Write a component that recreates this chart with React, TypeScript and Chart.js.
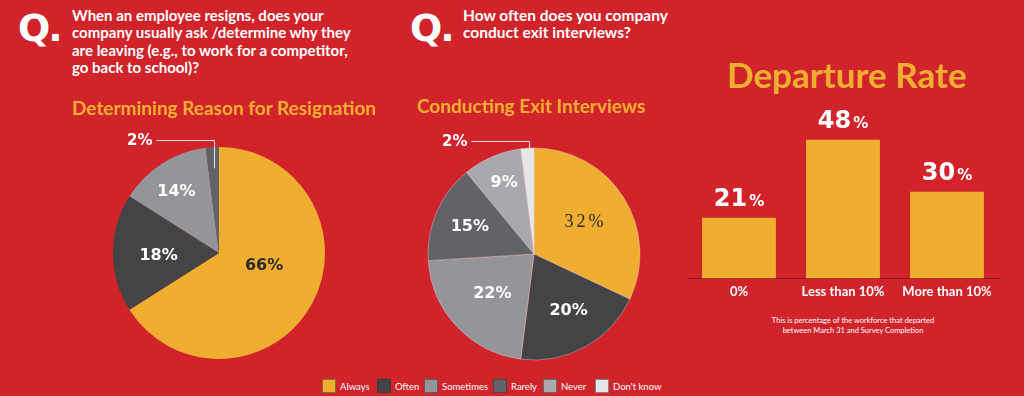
import React, { useEffect, useRef } from "react";
import { Chart, registerables } from "chart.js";

Chart.register(...registerables);

// ---------- data ----------
const legendLabels = ["Always", "Often", "Sometimes", "Rarely", "Never", "Don't know"];

const resignationLabels = ["Always", "Often", "Sometimes", "Rarely"];
const resignationValues = [66, 18, 14, 2];

const exitLabels = ["Always", "Often", "Sometimes", "Rarely", "Never", "Don't know"];
const exitValues = [32, 20, 22, 15, 9, 2];

const departureCategories = ["0%", "Less than 10%", "More than 10%"];
const departureValues = [21, 48, 30];

// ---------- styles ----------
const RED = "#D1232A";
const ORANGE = "#F0AE31";
const answerColors: Record<string, string> = {
  Always: ORANGE,
  Often: "#444446",
  Sometimes: "#939598",
  Rarely: "#626366",
  Never: "#A7A9AC",
  "Don't know": "#E6E7E8",
};
const legendX = [322, 377, 424, 493, 543, 595];

type Place = { r?: number; off?: number; color?: string; serif?: boolean; callout?: boolean };
const resignationPlaces: Place[] = [
  { r: 0.44, off: -14, color: "#2b2b2b" },
  { r: 0.57, off: -2 },
  { r: 0.71, off: -2 },
  { callout: true },
];
const exitPlaces: Place[] = [
  { r: 0.56, off: 0, color: "#2b2b2b", serif: true },
  { r: 0.62, off: -3 },
  { r: 0.54, off: 0 },
  { r: 0.66, off: 0 },
  { r: 0.74, off: 1 },
  { callout: true },
];

const pieLabelPlugin = {
  id: "pieLabels",
  afterDatasetsDraw(chart: any, _args: any, opts: any) {
    const ctx = chart.ctx as CanvasRenderingContext2D;
    const meta = chart.getDatasetMeta(0);
    const values = chart.data.datasets[0].data as number[];
    const places: Place[] = opts.places || [];
    meta.data.forEach((arc: any, i: number) => {
      const { x, y, startAngle, endAngle, outerRadius } = arc.getProps(
        ["x", "y", "startAngle", "endAngle", "outerRadius"],
        true
      );
      const p = places[i] || {};
      const text = values[i] + "%";
      ctx.save();
      if (p.callout) {
        const mid = (startAngle + endAngle) / 2;
        const px = Math.round(x + Math.cos(mid) * outerRadius * 0.8) + 0.5;
        const py = y + Math.sin(mid) * outerRadius * 0.8;
        const ly = Math.round(y - outerRadius - 7) + 0.5;
        const lx = px - 58;
        ctx.strokeStyle = "#e4e4e4";
        ctx.lineWidth = 1;
        ctx.beginPath();
        ctx.moveTo(px, py);
        ctx.lineTo(px, ly);
        ctx.lineTo(lx, ly);
        ctx.stroke();
        ctx.font = 'bold 15px "DejaVu Sans"';
        ctx.fillStyle = "#ffffff";
        ctx.textAlign = "right";
        ctx.textBaseline = "middle";
        ctx.fillText(text, lx - 4, ly + 1);
      } else {
        const mid = (startAngle + endAngle) / 2 + ((p.off || 0) * Math.PI) / 180;
        const rr = outerRadius * (p.r || 0.55);
        const tx = x + Math.cos(mid) * rr;
        const ty = y + Math.sin(mid) * rr;
        ctx.fillStyle = p.color || "#ffffff";
        ctx.textAlign = "center";
        ctx.textBaseline = "middle";
        if (p.serif) {
          ctx.font = '18px "Liberation Serif"';
          (ctx as any).letterSpacing = "3px";
          ctx.fillText(text, tx + 1.5, ty);
        } else {
          ctx.font = 'bold 16px "DejaVu Sans"';
          ctx.fillText(text, tx, ty + 1);
        }
      }
      ctx.restore();
    });
  },
};

const barValuePlugin = {
  id: "barValues",
  afterDatasetsDraw(chart: any) {
    const ctx = chart.ctx as CanvasRenderingContext2D;
    const meta = chart.getDatasetMeta(0);
    const data = chart.data.datasets[0].data as number[];
    meta.data.forEach((bar: any, i: number) => {
      const { x, y } = bar.getProps(["x", "y"], true);
      const num = String(data[i]);
      ctx.save();
      ctx.fillStyle = "#ffffff";
      ctx.textBaseline = "alphabetic";
      ctx.textAlign = "left";
      ctx.font = 'bold 24px "DejaVu Sans"';
      const w1 = ctx.measureText(num).width;
      ctx.font = 'bold 15px "DejaVu Sans"';
      const w2 = ctx.measureText("%").width;
      const gap = 2;
      const start = x - (w1 + gap + w2) / 2;
      ctx.font = 'bold 24px "DejaVu Sans"';
      ctx.fillText(num, start, y - 12);
      ctx.font = 'bold 15px "DejaVu Sans"';
      ctx.fillText("%", start + w1 + gap, y - 12);
      ctx.restore();
    });
  },
};

function pieConfig(labels: string[], values: number[], places: Place[], border: number): any {
  return {
    type: "pie",
    data: {
      labels,
      datasets: [
        {
          data: values,
          backgroundColor: labels.map((l) => answerColors[l]),
          borderWidth: border,
          borderColor: "rgba(235,200,200,0.55)",
          hoverOffset: 0,
          radius: 106,
        },
      ],
    },
    options: {
      responsive: false,
      animation: false,
      layout: { padding: 0 },
      plugins: {
        legend: { display: false },
        tooltip: { enabled: false },
        pieLabels: { places },
      },
    },
    plugins: [pieLabelPlugin],
  };
}

const qStyle: React.CSSProperties = {
  position: "absolute",
  color: "#fff",
  fontFamily: '"DejaVu Sans", sans-serif',
  fontWeight: 700,
  fontSize: 38,
  lineHeight: "38px",
  letterSpacing: -2,
};
const questionStyle: React.CSSProperties = {
  position: "absolute",
  color: "#fff",
  fontFamily: "Lato, sans-serif",
  fontWeight: 700,
  fontSize: 15,
  lineHeight: "17.5px",
  whiteSpace: "nowrap",
};
const subStyle: React.CSSProperties = {
  position: "absolute",
  color: ORANGE,
  fontFamily: "Lato, sans-serif",
  fontWeight: 700,
  fontSize: 19,
  lineHeight: "22px",
  whiteSpace: "nowrap",
};

export default function App() {
  const pie1 = useRef<HTMLCanvasElement>(null);
  const pie2 = useRef<HTMLCanvasElement>(null);
  const bars = useRef<HTMLCanvasElement>(null);

  useEffect(() => {
    document.body.style.margin = "0";
    document.body.style.background = RED;
    const c1 = new Chart(pie1.current!, pieConfig(resignationLabels, resignationValues, resignationPlaces, 0));
    const c2 = new Chart(pie2.current!, pieConfig(exitLabels, exitValues, exitPlaces, 0.8));
    const c3 = new Chart(bars.current!, {
      type: "bar",
      data: {
        labels: departureCategories,
        datasets: [
          {
            data: departureValues,
            backgroundColor: ORANGE,
            borderWidth: 0,
            categoryPercentage: 1,
            barPercentage: 0.71,
          },
        ],
      },
      options: {
        responsive: false,
        animation: false,
        layout: { padding: { left: 7, right: 25, top: 0, bottom: 0 } },
        scales: {
          y: { display: false, min: 0, max: 65.2 },
          x: {
            grid: { display: false, drawTicks: false },
            border: { display: true, color: "#8a1a1f", width: 1 },
            ticks: {
              color: "#ffffff",
              padding: 6,
              font: { family: "Lato", weight: "bold", size: 13 },
            },
          },
        },
        plugins: {
          legend: { display: false },
          tooltip: { enabled: false },
        },
      } as any,
      plugins: [barValuePlugin],
    } as any);
    return () => {
      c1.destroy();
      c2.destroy();
      c3.destroy();
    };
  }, []);

  return (
    <div
      style={{
        position: "fixed",
        left: 0,
        top: 0,
        width: 1024,
        height: 396,
        background: RED,
        overflow: "hidden",
      }}
    >
      {/* Question 1 */}
      <div style={{ ...qStyle, left: 18, top: 9 }}>Q.</div>
      <div style={{ ...questionStyle, left: 72, top: 6.5 }}>
        When an employee resigns, does your
        <br />
        company usually ask /determine why they
        <br />
        are leaving (e.g., to work for a competitor,
        <br />
        go back to school)?
      </div>
      <div style={{ ...subStyle, left: 72, top: 96.5 }}>Determining Reason for Resignation</div>

      {/* Question 2 */}
      <div style={{ ...qStyle, left: 410, top: 9 }}>Q.</div>
      <div style={{ ...questionStyle, fontSize: 15.5, left: 463, top: 6.5 }}>
        How often does you company
        <br />
        conduct exit interviews?
      </div>
      <div style={{ ...subStyle, left: 417, top: 95 }}>Conducting Exit Interviews</div>

      <canvas ref={pie1} width={240} height={240} style={{ position: "absolute", left: 99, top: 133 }} />
      <canvas ref={pie2} width={240} height={240} style={{ position: "absolute", left: 414, top: 134 }} />

      {/* Legend */}
      {legendLabels.map((l, i) => (
        <div
          key={l}
          style={{
            position: "absolute",
            left: legendX[i],
            top: 379,
            display: "flex",
            alignItems: "center",
            fontFamily: "Lato, sans-serif",
            fontSize: 9.5,
            lineHeight: "13px",
            color: "#fff",
            whiteSpace: "nowrap",
          }}
        >
          <span
            style={{
              display: "inline-block",
              width: 12,
              height: 12,
              background: answerColors[l],
              border: "1px solid rgba(50,50,50,0.55)",
              marginRight: 4,
            }}
          />
          <span>{l}</span>
        </div>
      ))}

      {/* Departure rate */}
      <div
        style={{
          position: "absolute",
          left: 727,
          top: 57,
          color: ORANGE,
          fontFamily: "Lato, sans-serif",
          fontWeight: 700,
          fontSize: 35,
          lineHeight: "35px",
          whiteSpace: "nowrap",
        }}
      >
        Departure Rate
      </div>
      <canvas ref={bars} width={344} height={216} style={{ position: "absolute", left: 680, top: 90 }} />
      <div
        style={{
          position: "absolute",
          left: 753,
          top: 316,
          width: 200,
          textAlign: "center",
          color: "#fff",
          fontFamily: "Lato, sans-serif",
          fontSize: 7.5,
          lineHeight: "10px",
        }}
      >
        This is percentage of the workforce that departed
        <br />
        between March 31 and Survey Completion
      </div>
    </div>
  );
}
